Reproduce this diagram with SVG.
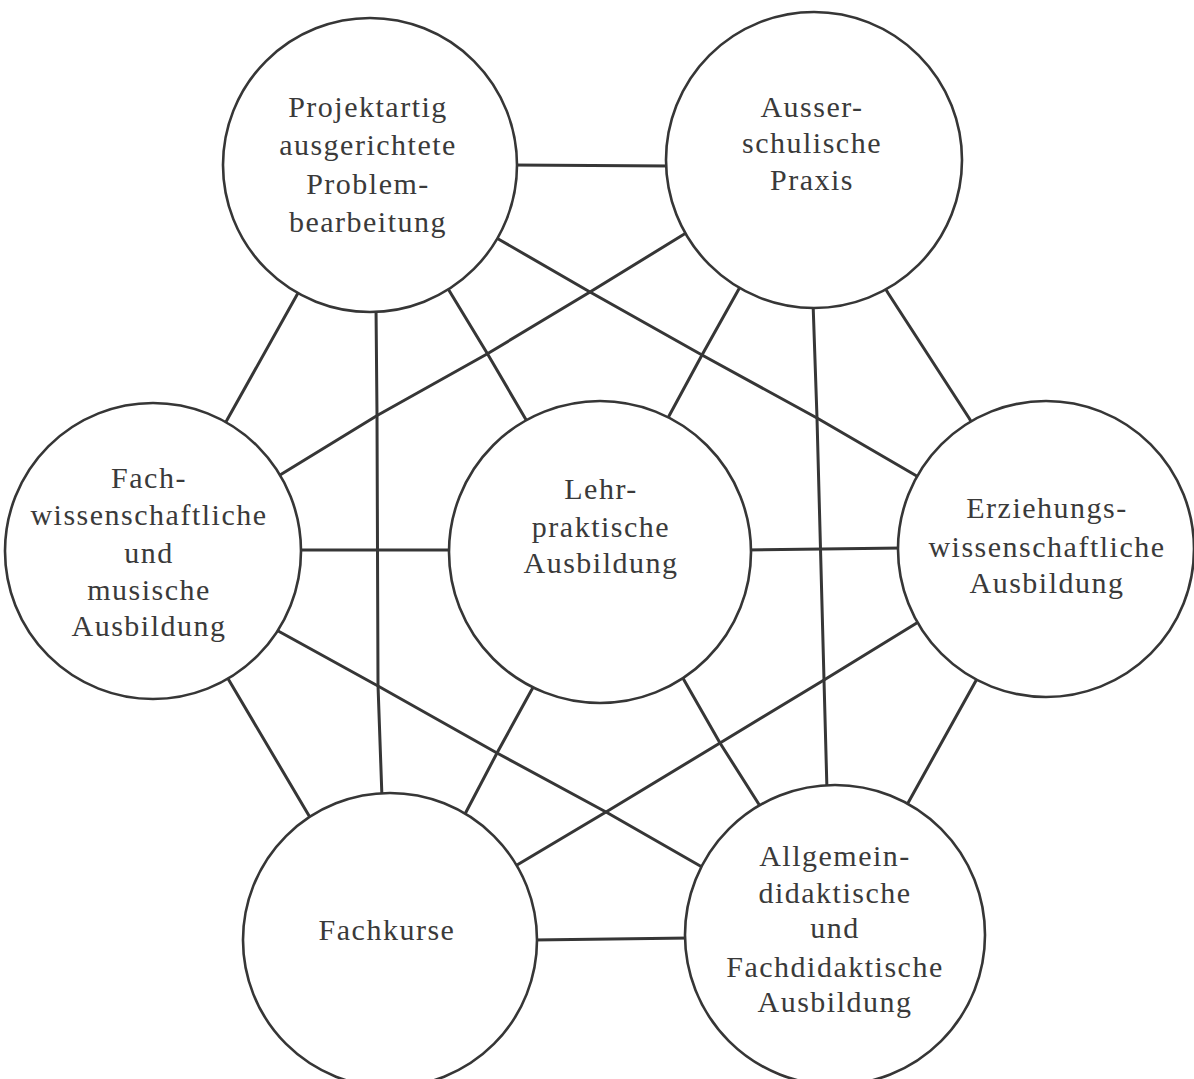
<svg xmlns="http://www.w3.org/2000/svg" width="1194" height="1079" viewBox="0 0 1194 1079">
<style>
.c{fill:#fff;stroke:#363636;stroke-width:2.6}
.l{fill:none;stroke:#363636;stroke-width:3;stroke-linejoin:round;stroke-linecap:round}
.t{font-family:'Liberation Serif','DejaVu Serif',serif;font-size:30px;letter-spacing:1.5px;fill:#3a3a3a;text-anchor:middle}
</style>
<rect width="1194" height="1079" fill="#fff"/>
<g id="connectors">
<path class="l" d="M512,165 L671,166"/>
<path class="l" d="M301,288 L298,293 L227,420 L224,425"/>
<path class="l" d="M447,287 L450,292 L487,353 L525,418 L528,423"/>
<path class="l" d="M376,306 L377,415 L378,685 L382,798"/>
<path class="l" d="M495,237 L500,240 L590,292 L702,355 L817,418 L915,475 L920,478"/>
<path class="l" d="M691,230 L686,233 L590,292 L487,354 L378,415 L280,475 L275,478"/>
<path class="l" d="M743,282 L740,287 L702,355 L669,416 L666,421"/>
<path class="l" d="M813,302 L817,418 L824,680 L827,791"/>
<path class="l" d="M885,288 L888,293 L969,418 L972,423"/>
<path class="l" d="M295,550 L455,550"/>
<path class="l" d="M745,550 L903,548"/>
<path class="l" d="M275,629 L280,632 L378,686 L497,753 L606,812 L702,867 L707,870"/>
<path class="l" d="M227,677 L230,682 L308,814 L311,819"/>
<path class="l" d="M534,686 L531,691 L497,753 L465,814 L462,819"/>
<path class="l" d="M925,618 L920,621 L824,680 L720,743 L606,812 L517,865 L512,868"/>
<path class="l" d="M681,675 L684,680 L720,743 L760,806 L763,811"/>
<path class="l" d="M981,672 L978,677 L908,803 L905,808"/>
<path class="l" d="M533,940 L690,938"/>
</g>
<g id="projekt">
<circle class="c" cx="370" cy="165" r="147"/>
<text class="t" x="368" y="117">Projektartig</text>
<text class="t" x="368" y="155">ausgerichtete</text>
<text class="t" x="368" y="194">Problem-</text>
<text class="t" x="368" y="232">bearbeitung</text>
</g>
<g id="ausser">
<circle class="c" cx="814" cy="160" r="148"/>
<text class="t" x="812" y="117">Ausser-</text>
<text class="t" x="812" y="153">schulische</text>
<text class="t" x="812" y="190">Praxis</text>
</g>
<g id="fach">
<circle class="c" cx="153" cy="551" r="148"/>
<text class="t" x="149" y="488">Fach-</text>
<text class="t" x="149" y="525">wissenschaftliche</text>
<text class="t" x="149" y="563">und</text>
<text class="t" x="149" y="600">musische</text>
<text class="t" x="149" y="636">Ausbildung</text>
</g>
<g id="lehr">
<circle class="c" cx="600" cy="552" r="151"/>
<text class="t" x="601" y="499">Lehr-</text>
<text class="t" x="601" y="537">praktische</text>
<text class="t" x="601" y="573">Ausbildung</text>
</g>
<g id="erziehung">
<circle class="c" cx="1046" cy="549" r="148"/>
<text class="t" x="1047" y="518">Erziehungs-</text>
<text class="t" x="1047" y="557">wissenschaftliche</text>
<text class="t" x="1047" y="593">Ausbildung</text>
</g>
<g id="fachkurse">
<circle class="c" cx="390" cy="940" r="147"/>
<text class="t" x="387" y="940">Fachkurse</text>
</g>
<g id="allgemein">
<circle class="c" cx="835" cy="935" r="150"/>
<text class="t" x="835" y="866">Allgemein-</text>
<text class="t" x="835" y="903">didaktische</text>
<text class="t" x="835" y="938">und</text>
<text class="t" x="835" y="977">Fachdidaktische</text>
<text class="t" x="835" y="1012">Ausbildung</text>
</g>
</svg>
